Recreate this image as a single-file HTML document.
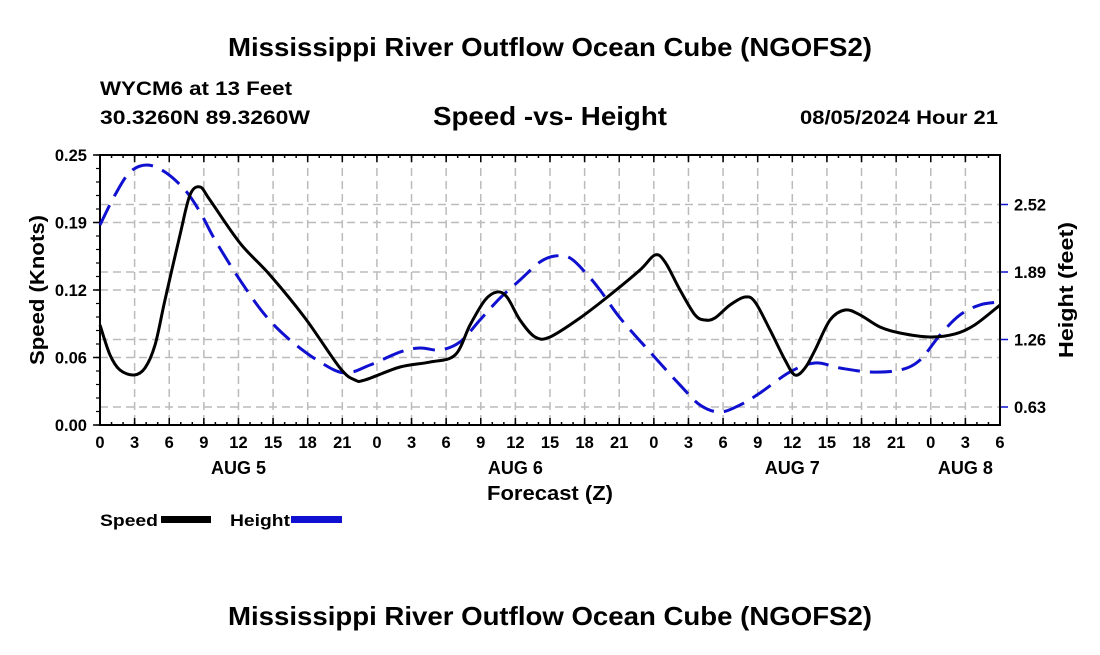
<!DOCTYPE html>
<html><head><meta charset="utf-8"><style>
body{margin:0;background:#fff;}
svg text{font-family:"Liberation Sans",sans-serif;font-weight:bold;fill:#000;}
</style></head><body>
<svg width="1100" height="650" viewBox="0 0 1100 650" id="chart">
<text x="550" y="56" font-size="26" text-anchor="middle" textLength="644" lengthAdjust="spacingAndGlyphs">Mississippi River Outflow Ocean Cube (NGOFS2)</text>
<text x="100" y="95" font-size="19" textLength="192" lengthAdjust="spacingAndGlyphs">WYCM6 at 13 Feet</text>
<text x="100" y="124" font-size="19" textLength="210" lengthAdjust="spacingAndGlyphs">30.3260N  89.3260W</text>
<text x="550" y="125" font-size="26" text-anchor="middle" textLength="234" lengthAdjust="spacingAndGlyphs">Speed -vs- Height</text>
<text x="998" y="124" font-size="19" text-anchor="end" textLength="198" lengthAdjust="spacingAndGlyphs">08/05/2024 Hour 21</text>
<g id="grid"></g>
<g id="axes"></g>
<g id="series"></g>
<text x="550" y="500" font-size="20" text-anchor="middle" textLength="126" lengthAdjust="spacingAndGlyphs">Forecast (Z)</text>
<text transform="translate(44,290) rotate(-90)" font-size="20" text-anchor="middle" textLength="150" lengthAdjust="spacingAndGlyphs">Speed (Knots)</text>
<text transform="translate(1073,290) rotate(-90)" font-size="20" text-anchor="middle" textLength="136" lengthAdjust="spacingAndGlyphs">Height (feet)</text>
<g>
<text x="100" y="526" font-size="17" textLength="58" lengthAdjust="spacingAndGlyphs">Speed</text>
<rect x="161" y="516" width="50" height="7" fill="#000"/>
<text x="230" y="526" font-size="17" textLength="60" lengthAdjust="spacingAndGlyphs">Height</text>
<rect x="291" y="516" width="51" height="7" fill="#1010d0"/>
</g>
<text x="550" y="625" font-size="26" text-anchor="middle" textLength="644" lengthAdjust="spacingAndGlyphs">Mississippi River Outflow Ocean Cube (NGOFS2)</text>
</svg>
<script>
const speedHours=[0,0.87,1.73,2.95,3.9,4.77,5.63,6.93,7.8,8.67,9.53,12.13,14.73,17.77,20.8,22.1,22.97,26,28.6,30.77,32.07,33.37,34.4,35.27,36.4,37.7,39,41.6,44.2,46.8,48.1,48.97,50.27,51.57,52.43,53.3,54.6,55.9,56.77,58.07,59.37,60.23,61.1,61.97,63.27,64.57,65.87,67.6,69.33,71.93,74.1,75.8,78];
const speedValues=[0.0926,0.0648,0.0509,0.0463,0.0528,0.0741,0.1157,0.1759,0.213,0.2204,0.2083,0.1685,0.1389,0.0991,0.0528,0.0417,0.0417,0.0537,0.0583,0.0648,0.0926,0.1157,0.1231,0.1185,0.0972,0.0815,0.0815,0.0991,0.1204,0.1435,0.1574,0.1509,0.125,0.1019,0.0972,0.0991,0.1111,0.1185,0.1139,0.088,0.0602,0.0463,0.0528,0.0694,0.0972,0.1065,0.1019,0.0907,0.0852,0.0815,0.0843,0.0926,0.1111];
const heightHours=[0,1.3,2.6,4.07,5.63,7.37,8.67,9.97,12.13,14.3,16.47,19.07,21.23,23.4,26,27.73,29.47,31.2,32.93,34.67,36.4,38.13,39.43,40.73,42.03,43.33,45.07,47.67,50.27,52,53.73,55.47,57.2,59.8,61.97,64.13,66.73,69.33,71.07,72.8,74.53,76.27,78];
const heightValues=[2.329,2.609,2.823,2.889,2.823,2.655,2.45,2.189,1.815,1.489,1.255,1.05,0.947,1.022,1.143,1.181,1.162,1.237,1.442,1.647,1.815,1.983,2.039,2.021,1.89,1.722,1.461,1.143,0.835,0.649,0.583,0.649,0.761,0.957,1.041,0.994,0.957,0.975,1.069,1.302,1.489,1.583,1.61];
const xTickLabels=["0","3","6","9","12","15","18","21","0","3","6","9","12","15","18","21","0","3","6","9","12","15","18","21","0","3","6"];
const dayLabels=["AUG 5","AUG 6","AUG 7","AUG 8"];
const dayHours=[12,36,60,75];
const speedTicks=[0,0.0625,0.125,0.1875,0.25];
const speedTickLabels=["0.00","0.06","0.12","0.19","0.25"];
const heightTicks=[0.63,1.26,1.89,2.52];

const L=100,R=1000,T=155,B=425,HMAX=78;
const xs=h=>L+(R-L)*h/HMAX;
const ys=v=>B-(B-T)*v/0.25;
const yh=v=>407-(v-0.63)*67.5/0.63;
const NS="http://www.w3.org/2000/svg";
function mk(tag,attrs,parent){const e=document.createElementNS(NS,tag);for(const k in attrs)e.setAttribute(k,attrs[k]);parent.appendChild(e);return e;}
const grid=document.getElementById('grid'),axes=document.getElementById('axes'),series=document.getElementById('series');
const gs={stroke:'#bbb','stroke-width':1.5,'stroke-dasharray':'8,5'};
for(let i=0;i<xTickLabels.length;i++){
  const x=xs(i*3);
  if(i>0&&i<xTickLabels.length-1){const g=mk('line',Object.assign({x1:x,x2:x,y1:T,y2:B},gs),grid);
  
  }
  mk('line',{x1:x,x2:x,y1:B,y2:B-7,stroke:'#000','stroke-width':1.5},axes);
  mk('line',{x1:x,x2:x,y1:T,y2:T+7,stroke:'#000','stroke-width':1.5},axes);
  const t=mk('text',{x:x,y:B+23,'font-size':16.5,'text-anchor':'middle'},axes);t.textContent=xTickLabels[i];
  
  
}
for(let h=0;h<=HMAX;h++){const x=xs(h);mk('line',{x1:x,x2:x,y1:B,y2:B-3,stroke:'#000','stroke-width':1.5},axes);mk('line',{x1:x,x2:x,y1:T,y2:T+3,stroke:'#000','stroke-width':1.5},axes);}
for(let i=0;i<dayLabels.length;i++){const t=mk('text',{x:xs(dayHours[i]),y:B+49,'font-size':18,'text-anchor':'middle'},axes);t.textContent=dayLabels[i];

}
for(let i=0;i<speedTicks.length;i++){const y=ys(speedTicks[i]);
  if(i>0&&i<speedTicks.length-1){const g=mk('line',Object.assign({x1:L,x2:R,y1:y,y2:y},gs),grid);
  
  }
  mk('line',{x1:L-7,x2:L,y1:y,y2:y,stroke:'#000','stroke-width':1.5},axes);
  const t=mk('text',{x:L-13,y:y+6,'font-size':16.5,'text-anchor':'end'},axes);t.textContent=speedTickLabels[i];
  
  }
for(let v=0;v<=0.25001;v+=0.0125){const y=ys(v);mk('line',{x1:L-4,x2:L,y1:y,y2:y,stroke:'#000','stroke-width':1.2},axes);}
for(let i=0;i<heightTicks.length;i++){const y=yh(heightTicks[i]);
  const g=mk('line',Object.assign({x1:L,x2:R,y1:y,y2:y},gs),grid);
  
  
  mk('line',{x1:R,x2:R+8,y1:y,y2:y,stroke:'#1010d0','stroke-width':1.5},axes);
  const t=mk('text',{x:R+14,y:y+6,'font-size':16.5},axes);t.textContent=heightTicks[i].toFixed(2);
  
  }
mk('rect',{x:L,y:T,width:R-L,height:B-T,fill:'none',stroke:'#000','stroke-width':2},axes);
function smooth(pts){let d='M'+pts[0][0]+','+pts[0][1];
  for(let i=0;i<pts.length-1;i++){const p0=pts[i-1]||pts[i],p1=pts[i],p2=pts[i+1],p3=pts[i+2]||p2;
    d+=' C'+(p1[0]+(p2[0]-p0[0])/6)+','+(p1[1]+(p2[1]-p0[1])/6)+' '+(p2[0]-(p3[0]-p1[0])/6)+','+(p2[1]-(p3[1]-p1[1])/6)+' '+p2[0]+','+p2[1];}
  return d;}
const hp=mk('path',{d:smooth(heightHours.map((h,i)=>[xs(h),yh(heightValues[i])])),fill:'none',stroke:'#1010d0','stroke-width':3,'stroke-dasharray':'22,10'},series);


const sp=mk('path',{d:smooth(speedHours.map((h,i)=>[xs(h),ys(speedValues[i])])),fill:'none',stroke:'#000','stroke-width':3},series);


</script>
</body></html>
